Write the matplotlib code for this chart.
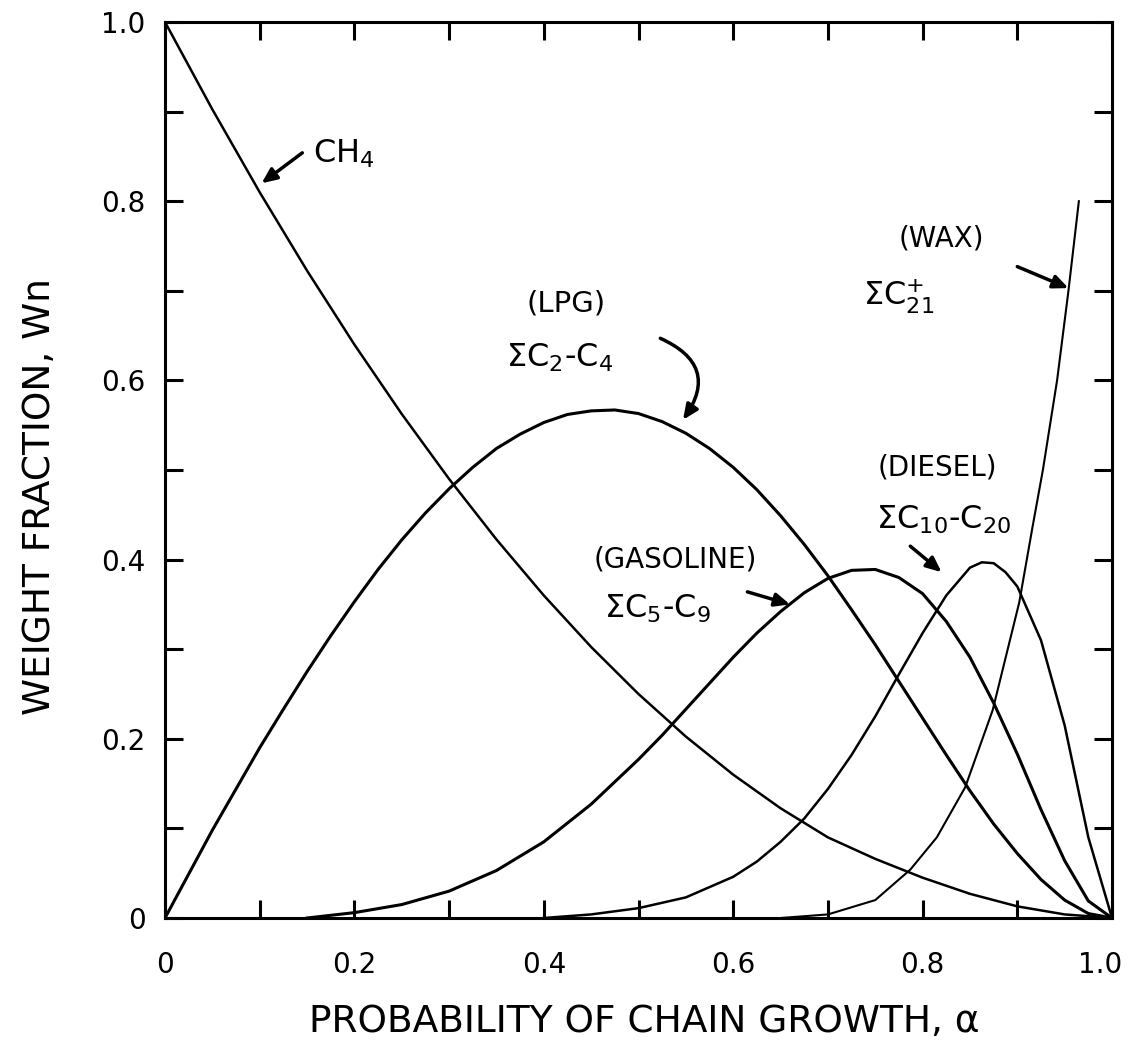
import matplotlib
matplotlib.use('Agg')
import matplotlib.pyplot as plt
import matplotlib.transforms as mtransforms

plt.rcParams['font.family'] = ['DejaVu Sans']

# values (weight fraction vs chain growth probability)
alphaCh4 = [0.0, 0.05, 0.1, 0.15, 0.2, 0.25, 0.3, 0.35, 0.4, 0.45, 0.5,
            0.55, 0.6, 0.65, 0.7, 0.75, 0.8, 0.85, 0.9, 0.95, 1.0]
ch4 = [1.0, 0.9025, 0.81, 0.7225, 0.64, 0.5625, 0.49, 0.4225, 0.36, 0.3025, 0.25,
       0.2025, 0.16, 0.1225, 0.09, 0.066, 0.045, 0.027, 0.013, 0.004, 0.0]

alphaLpg = [0.0, 0.025, 0.05, 0.075, 0.1, 0.125, 0.15, 0.175, 0.2, 0.225, 0.25, 0.275,
            0.3, 0.325, 0.35, 0.375, 0.4, 0.425, 0.45, 0.475, 0.5, 0.525, 0.55, 0.575,
            0.6, 0.625, 0.65, 0.675, 0.7, 0.725, 0.75, 0.775, 0.8, 0.825, 0.85, 0.875,
            0.9, 0.925, 0.95, 0.975, 1.0]
lpg = [0.0, 0.049, 0.098, 0.144, 0.19, 0.233, 0.275, 0.315, 0.353, 0.389, 0.422, 0.452,
       0.479, 0.503, 0.524, 0.54, 0.553, 0.562, 0.566, 0.567, 0.563, 0.554, 0.541, 0.524,
       0.503, 0.478, 0.449, 0.417, 0.382, 0.344, 0.305, 0.264, 0.223, 0.182, 0.142, 0.105,
       0.072, 0.043, 0.02, 0.005, 0.0]

alphaGasoline = [0.15, 0.2, 0.25, 0.3, 0.35, 0.4, 0.45, 0.5, 0.525, 0.55, 0.575, 0.6, 0.625,
                 0.65, 0.675, 0.7, 0.725, 0.75, 0.775, 0.8, 0.825, 0.85, 0.875, 0.9, 0.925,
                 0.95, 0.975, 1.0]
gasoline = [0.0, 0.006, 0.015, 0.03, 0.053, 0.085, 0.127, 0.177, 0.204, 0.233, 0.262, 0.291, 0.318,
            0.342, 0.363, 0.379, 0.388, 0.389, 0.38, 0.362, 0.331, 0.291, 0.24, 0.183, 0.121,
            0.064, 0.019, 0.0]

alphaDiesel = [0.4, 0.45, 0.5, 0.55, 0.6, 0.625, 0.65, 0.675, 0.7, 0.725, 0.75, 0.775, 0.8,
               0.825, 0.85, 0.8625, 0.875, 0.8875, 0.9, 0.925, 0.95, 0.975, 1.0]
diesel = [0.0, 0.004, 0.011, 0.023, 0.046, 0.063, 0.085, 0.111, 0.144, 0.182, 0.225, 0.272, 0.318,
          0.36, 0.391, 0.397, 0.396, 0.386, 0.37, 0.31, 0.215, 0.09, 0.0]

alphaWax = [0.65, 0.7, 0.75, 0.787, 0.815, 0.845, 0.874, 0.902, 0.916, 0.927, 0.942, 0.954, 0.965]
wax = [0.0, 0.004, 0.02, 0.054, 0.09, 0.146, 0.232, 0.352, 0.436, 0.5, 0.6, 0.7, 0.8]

tickValues = [0.0, 0.1, 0.2, 0.3, 0.4, 0.5, 0.6, 0.7, 0.8, 0.9, 1.0]
tickLabels = ['0', '', '0.2', '', '0.4', '', '0.6', '', '0.8', '', '1.0']

fig = plt.figure(figsize=(11.27, 10.53), dpi=100)
ax = fig.add_axes([0.1464, 0.1282, 0.8403, 0.8509])

ax.plot(alphaCh4, ch4, color='black', lw=1.8, solid_joinstyle='round')
ax.plot(alphaLpg, lpg, color='black', lw=2.2, solid_joinstyle='round')
ax.plot(alphaGasoline, gasoline, color='black', lw=2.2, solid_joinstyle='round')
ax.plot(alphaDiesel, diesel, color='black', lw=1.8, solid_joinstyle='round')
ax.plot(alphaWax, wax, color='black', lw=1.5, solid_joinstyle='round')

ax.set_xlim(0, 1)
ax.set_ylim(0, 1)
ax.set_xticks(tickValues)
ax.set_xticklabels(tickLabels)
ax.set_yticks(tickValues)
ax.set_yticklabels(tickLabels)
ax.tick_params(axis='both', direction='in', length=13, width=2.2, top=True, right=True,
               labelsize=20)
ax.tick_params(axis='x', pad=24)
ax.tick_params(axis='y', pad=14)
for s in ax.spines.values():
    s.set_linewidth(2.2)

# the last x label sits a bit to the left in the original
lastLabel = ax.get_xticklabels()[-1]
lastLabel.set_transform(lastLabel.get_transform() +
                        mtransforms.ScaledTranslation(-12 / 100, 0, fig.dpi_scale_trans))

arrowStyle = dict(arrowstyle='-|>,head_length=0.9,head_width=0.4', color='black', lw=2.5,
                  shrinkA=0, shrinkB=0)

# CH4
ax.text(0.156, 0.843, 'CH$_4$', fontsize=23, ha='left', va='baseline')
ax.annotate('', xy=(0.102, 0.820), xytext=(0.145, 0.854), arrowprops=arrowStyle)

# LPG
ax.text(0.424, 0.686, '(LPG)', fontsize=21, ha='center', va='center')
ax.text(0.417, 0.615, 'ΣC$_2$-C$_4$', fontsize=23, ha='center', va='baseline')
ax.annotate('', xy=(0.547, 0.556), xytext=(0.523, 0.647),
            arrowprops=dict(arrowStyle, connectionstyle='arc3,rad=-0.6'))

# gasoline
ax.text(0.539, 0.40, '(GASOLINE)', fontsize=20, ha='center', va='center')
ax.text(0.52, 0.335, 'ΣC$_5$-C$_9$', fontsize=23, ha='center', va='baseline')
ax.annotate('', xy=(0.660, 0.350), xytext=(0.615, 0.364), arrowprops=arrowStyle)

# diesel
ax.text(0.816, 0.503, '(DIESEL)', fontsize=20, ha='center', va='center')
ax.text(0.822, 0.435, 'ΣC$_{10}$-C$_{20}$', fontsize=23, ha='center', va='baseline')
ax.annotate('', xy=(0.820, 0.386), xytext=(0.787, 0.415), arrowprops=arrowStyle)

# wax
ax.text(0.820, 0.758, '(WAX)', fontsize=20, ha='center', va='center')
ax.text(0.737, 0.684, 'ΣC$_{21}^{+}$', fontsize=23, ha='left', va='baseline')
ax.annotate('', xy=(0.954, 0.703), xytext=(0.90, 0.727), arrowprops=arrowStyle)

fig.text(0.572, 0.029, 'PROBABILITY OF CHAIN GROWTH, α', fontsize=27, ha='center', va='center')
fig.text(0.0355, 0.528, 'WEIGHT FRACTION, Wn', fontsize=27, ha='center', va='center',
         rotation=90)

fig.savefig('out.png', dpi=100)
